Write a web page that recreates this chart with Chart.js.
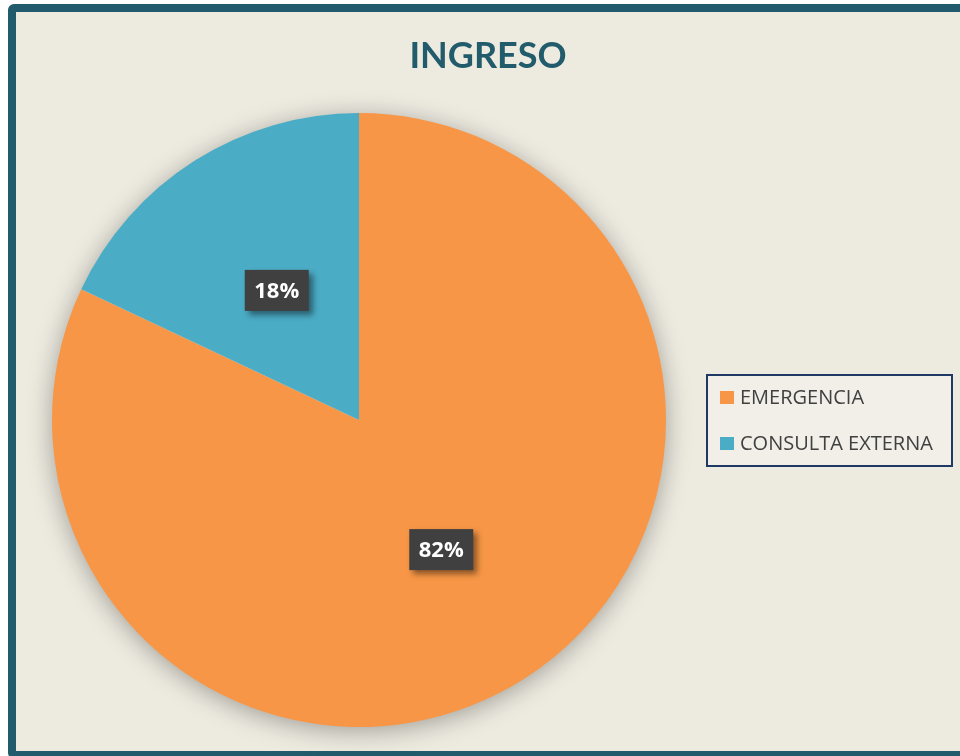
<!DOCTYPE html>
<html>
<head>
<meta charset="utf-8">
<script src="https://cdn.jsdelivr.net/npm/chart.js@4.4.1/dist/chart.umd.min.js"></script>
<style>
  html, body { margin:0; padding:0; background:#ffffff; width:960px; height:756px; overflow:hidden; }
  #frame { position:absolute; left:8px; top:4px; width:980px; height:755px; box-sizing:border-box;
           border:8px solid #225B6B; border-radius:6px; background:#EDEAE0; }
  #c { position:absolute; left:0; top:0; }
</style>
</head>
<body>
<div id="frame"></div>
<canvas id="c" width="960" height="756"></canvas>
<script>
const chartTitle = "INGRESO";
const categories = ["EMERGENCIA", "CONSULTA EXTERNA"];
const values = [82, 18];
const sliceColors = ["#F79646", "#4BACC6"];

const decorPlugin = {
  id: "decor",
  beforeDatasetsDraw(chart) {
    const meta = chart.getDatasetMeta(0);
    const a = meta.data[0];
    if (!a) return;
    const ctx = chart.ctx;
    ctx.save();
    ctx.shadowColor = "rgba(0,0,0,0.35)";
    ctx.shadowBlur = 26;
    ctx.shadowOffsetX = 0;
    ctx.shadowOffsetY = 4;
    ctx.fillStyle = "#EDEAE0";
    ctx.beginPath();
    ctx.arc(a.x, a.y, a.outerRadius - 1, 0, Math.PI * 2);
    ctx.fill();
    ctx.restore();
  },
  afterDatasetsDraw(chart) {
    const ctx = chart.ctx;
    const meta = chart.getDatasetMeta(0);
    const total = values.reduce((s, v) => s + v, 0);
    ctx.save();
    ctx.font = "bold 22px 'Open Sans'";
    ctx.textAlign = "center";
    ctx.textBaseline = "middle";
    meta.data.forEach((arc, i) => {
      const p = arc.getCenterPoint();
      const txt = Math.round(values[i] / total * 100) + "%";
      const w = 64, h = 41;
      ctx.save();
      ctx.shadowColor = "rgba(0,0,0,0.45)";
      ctx.shadowBlur = 6;
      ctx.shadowOffsetX = 4;
      ctx.shadowOffsetY = 4;
      ctx.fillStyle = "#404040";
      ctx.fillRect(p.x - w / 2, p.y - h / 2, w, h);
      ctx.restore();
      ctx.fillStyle = "#FFFFFF";
      ctx.fillText(txt, p.x, p.y + 1);
    });
    ctx.restore();
  },
  afterDraw(chart) {
    const ctx = chart.ctx;
    ctx.save();
    // title
    ctx.font = "bold 36px Lato";
    ctx.fillStyle = "#225B6B";
    ctx.textAlign = "center";
    ctx.textBaseline = "middle";
    ctx.fillText(chartTitle, 488, 56);
    // legend box
    const lx = 707, ly = 375, lw = 245, lh = 91;
    ctx.fillStyle = "#F1EFE8";
    ctx.fillRect(lx, ly, lw, lh);
    ctx.strokeStyle = "#1F3864";
    ctx.lineWidth = 2;
    ctx.strokeRect(lx, ly, lw, lh);
    ctx.font = "20px 'Open Sans'";
    ctx.textAlign = "left";
    const rows = [397.5, 443.5];
    categories.forEach((cat, i) => {
      ctx.fillStyle = sliceColors[i];
      ctx.fillRect(720, rows[i] - 6.5, 14, 13);
      ctx.fillStyle = "#404040";
      ctx.fillText(cat, 740, rows[i] + 1);
    });
    ctx.restore();
  }
};

new Chart(document.getElementById("c"), {
  type: "pie",
  data: {
    labels: categories,
    datasets: [{ data: values, backgroundColor: sliceColors, borderWidth: 0, hoverOffset: 0 }]
  },
  options: {
    responsive: false,
    animation: false,
    devicePixelRatio: 1,
    layout: { padding: { left: 52, right: 294, top: 113, bottom: 29 } },
    plugins: { legend: { display: false }, title: { display: false }, tooltip: { enabled: false } }
  },
  plugins: [decorPlugin]
});
</script>
</body>
</html>
